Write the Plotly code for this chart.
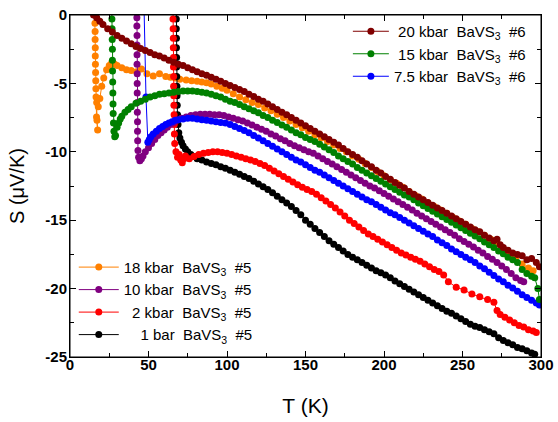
import plotly.graph_objects as go

# ---------------- data ----------------
# 20 kbar BaVS3 #6
T_20kbar = [13, 15, 17, 19, 21, 24, 27, 30, 33, 36, 39, 42, 45, 48, 51, 54, 57, 60, 63, 66, 69,
            72, 75, 78, 81, 84, 87, 90, 93, 96, 99, 102, 105, 108, 111, 114, 117, 120, 123, 126,
            129, 132, 135, 138, 141, 144, 147, 150, 153, 156, 159, 162, 165, 168, 171, 174, 177,
            180, 183, 186, 189, 192, 195, 198, 201, 204, 207, 210, 213, 216, 219, 222, 225, 228,
            231, 234, 237, 240, 243, 246, 249, 252, 255, 258, 261, 264, 267, 270, 272, 274, 276,
            279, 282, 285, 288, 291, 294, 297, 299]
S_20kbar = [1.0, 0.0, -0.2, -0.45, -0.7, -1.0, -1.25, -1.5, -1.7, -1.9, -2.1, -2.3, -2.45, -2.6,
            -2.75, -2.9, -3.0, -3.15, -3.3, -3.45, -3.6, -3.7, -3.85, -4.0, -4.15, -4.3, -4.4,
            -4.55, -4.7, -4.85, -5.0, -5.15, -5.3, -5.45, -5.6, -5.8, -5.95, -6.15, -6.3, -6.5,
            -6.7, -6.9, -7.1, -7.3, -7.5, -7.7, -7.9, -8.1, -8.3, -8.5, -8.7, -8.9, -9.1, -9.3,
            -9.5, -9.75, -10.0, -10.2, -10.4, -10.65, -10.9, -11.1, -11.35, -11.55, -11.8, -12.0,
            -12.25, -12.45, -12.65, -12.9, -13.1, -13.3, -13.5, -13.7, -13.9, -14.1, -14.3, -14.5,
            -14.7, -14.9, -15.1, -15.3, -15.5, -15.7, -15.85, -16.1, -16.3, -16.5, -16.4, -16.8,
            -17.0, -17.2, -17.4, -17.5, -17.6, -17.9, -17.8, -18.1, -18.4]

# 15 kbar BaVS3 #6
T_15kbar = [26.5, 26.7, 26.8, 26.9, 27.0, 27.0, 27.1, 27.2, 27.3, 27.4, 27.5, 27.7, 28.0, 28.5,
            29.0, 30, 31, 32, 33, 35, 37, 39, 42, 45, 48, 51, 54, 57, 60, 63, 66, 69, 72, 75, 78,
            81, 84, 87, 90, 93, 96, 99, 102, 105, 108, 111, 114, 117, 120, 123, 126, 129, 132,
            135, 138, 141, 144, 147, 150, 153, 156, 159, 162, 165, 168, 171, 174, 177, 180, 183,
            186, 189, 192, 195, 198, 201, 204, 207, 210, 213, 216, 219, 222, 225, 228, 231, 234,
            237, 240, 243, 246, 249, 252, 255, 258, 261, 264, 267, 270, 273, 276, 279, 282, 285,
            288, 291, 294, 296, 298, 299]
S_15kbar = [1.0, -0.3, -1.0, -1.8, -2.5, -3.3, -4.1, -4.9, -5.7, -6.5, -7.2, -7.9, -8.5, -8.9,
            -8.8, -8.2, -7.9, -7.6, -7.4, -7.1, -6.9, -6.7, -6.45, -6.3, -6.15, -6.0, -5.9, -5.8,
            -5.75, -5.7, -5.65, -5.6, -5.55, -5.55, -5.55, -5.6, -5.65, -5.7, -5.8, -5.9, -6.0,
            -6.15, -6.3, -6.4, -6.55, -6.7, -6.85, -7.0, -7.15, -7.35, -7.5, -7.7, -7.85, -8.05,
            -8.2, -8.4, -8.6, -8.75, -8.95, -9.1, -9.25, -9.45, -9.65, -9.85, -10.05, -10.3,
            -10.5, -10.7, -10.9, -11.15, -11.35, -11.55, -11.75, -11.95, -12.15, -12.35, -12.55,
            -12.75, -12.95, -13.15, -13.3, -13.5, -13.75, -13.95, -14.15, -14.35, -14.55, -14.75,
            -14.95, -15.15, -15.35, -15.55, -15.75, -15.95, -16.15, -16.35, -16.6, -16.8, -17.0,
            -17.25, -17.45, -17.7, -17.9, -18.1, -18.6, -18.9, -19.1, -19.2, -20.0, -20.8]

# 7.5 kbar BaVS3 #6
T_7p5kbar = [46.5, 48.4, 49.6, 50.5, 51.5, 53, 55, 57, 59, 61, 63, 65, 67, 69, 72, 75, 78, 81, 84,
             87, 90, 93, 96, 99, 102, 105, 108, 111, 114, 117, 120, 123, 126, 129, 132, 135, 138,
             141, 144, 147, 150, 153, 156, 159, 162, 165, 168, 171, 174, 177, 180, 183, 186, 189,
             192, 195, 198, 201, 204, 207, 210, 213, 216, 219, 222, 225, 228, 231, 234, 237, 240,
             243, 246, 249, 252, 255, 258, 261, 264, 267, 270, 273, 276, 279, 282, 285, 288, 291,
             294, 297, 299]
S_7p5kbar = [4.0, -6.0, -9.3, -9.1, -8.9, -8.7, -8.5, -8.3, -8.15, -8.0, -7.9, -7.8, -7.7, -7.65,
             -7.6, -7.55, -7.55, -7.6, -7.65, -7.7, -7.75, -7.8, -7.85, -7.9, -8.0, -8.15, -8.3,
             -8.45, -8.6, -8.8, -9.0, -9.2, -9.4, -9.6, -9.8, -10.0, -10.2, -10.4, -10.6, -10.75,
             -10.95, -11.15, -11.35, -11.5, -11.7, -11.9, -12.1, -12.3, -12.5, -12.7, -12.9, -13.1,
             -13.3, -13.5, -13.65, -13.85, -14.05, -14.25, -14.45, -14.6, -14.8, -15.0, -15.2,
             -15.4, -15.6, -15.8, -16.0, -16.2, -16.45, -16.65, -16.85, -17.1, -17.3, -17.5, -17.7,
             -17.9, -18.1, -18.35, -18.55, -18.8, -19.05, -19.3, -19.5, -19.75, -19.95, -20.2,
             -20.45, -20.65, -20.85, -21.05, -21.2]

# 18 kbar BaVS3 #5
T_18kbar = [15.6, 15.8, 15.9, 16.0, 16.0, 16.1, 16.1, 16.2, 16.3, 16.4, 16.5, 16.6, 16.9, 17.6,
            17.2, 17.0, 18.0, 19.0, 20.2, 21.5, 23.3, 25.0, 26.5, 28.5, 30, 33, 36, 39, 42.5, 45.5,
            49, 53, 57, 61, 64, 67, 70, 74, 77.5, 81, 84, 87, 90, 93.5, 97, 100, 104, 108, 112,
            116, 120, 124, 128, 132, 136, 140, 144, 148, 152, 156, 160, 164, 168, 172, 176, 180,
            184, 188, 192, 196, 200, 204, 208, 212, 216, 220, 224, 228, 232, 236, 240, 244, 248,
            252, 256, 260, 264, 268, 272, 276, 280, 284, 288, 292, 295]
S_18kbar = [1.0, 0.0, -0.6, -1.2, -1.8, -2.4, -3.0, -3.6, -4.2, -4.8, -5.4, -6.0, -7.45, -8.4,
            -7.7, -6.4, -6.7, -6.1, -5.2, -4.6, -4.0, -3.7, -3.5, -3.6, -3.7, -3.85, -4.0, -4.05,
            -4.15, -3.95, -4.3, -4.45, -4.3, -4.5, -4.55, -4.6, -4.7, -4.75, -4.8, -4.85, -4.9,
            -4.95, -5.05, -5.2, -5.35, -5.5, -5.75, -6.0, -6.2, -6.4, -6.55, -6.8, -7.0, -7.25,
            -7.5, -7.75, -8.0, -8.25, -8.5, -8.75, -9.0, -9.25, -9.5, -9.75, -10.0, -10.3, -10.55,
            -10.85, -11.15, -11.45, -11.75, -12.05, -12.3, -12.6, -12.9, -13.2, -13.45, -13.75,
            -14.0, -14.25, -14.5, -14.8, -15.05, -15.3, -15.6, -15.85, -16.1, -16.4, -16.7, -17.2,
            -17.5, -17.7, -18.2, -18.5, -18.7]

# 10 kbar BaVS3 #5
T_10kbar = [42.5, 42.6, 42.6, 42.7, 42.7, 42.7, 42.7, 42.8, 42.8, 42.8, 42.9, 42.9, 43.0, 43.0,
            43.1, 43.3, 43.7, 44.5, 45.5, 46.5, 48, 50, 52, 54, 56, 58, 60, 62, 64, 66, 68, 71, 74,
            77, 80, 83, 86, 89, 92, 95, 98, 101, 104, 107, 110, 113, 116, 119, 122, 125, 128, 131,
            134, 137, 140, 143, 146, 149, 152, 155, 158, 161, 164, 167, 170, 173, 176, 179, 182,
            185, 188, 191, 194, 197, 200, 203, 206, 209, 212, 215, 218, 221, 224, 227, 230, 233,
            236, 239, 242, 245, 248, 251, 254, 257, 260, 263, 266, 269, 272, 275, 278, 281, 284,
            287, 289]
S_10kbar = [2.0, -0.2, -0.8, -1.5, -2.2, -2.9, -3.6, -4.3, -5.0, -5.7, -6.4, -7.1, -7.8, -8.5,
            -9.2, -9.9, -10.4, -10.65, -10.5, -10.3, -10.0, -9.7, -9.4, -9.1, -8.8, -8.6, -8.4,
            -8.2, -8.0, -7.85, -7.7, -7.55, -7.45, -7.35, -7.3, -7.25, -7.25, -7.25, -7.3, -7.3,
            -7.35, -7.45, -7.55, -7.65, -7.75, -7.9, -8.05, -8.2, -8.35, -8.5, -8.7, -8.85, -9.05,
            -9.2, -9.4, -9.55, -9.7, -9.85, -10.0, -10.1, -10.3, -10.5, -10.7, -10.9, -11.1,
            -11.3, -11.5, -11.7, -11.9, -12.1, -12.3, -12.5, -12.65, -12.85, -13.05, -13.25,
            -13.45, -13.65, -13.85, -14.05, -14.25, -14.5, -14.7, -14.9, -15.1, -15.3, -15.5,
            -15.7, -15.9, -16.1, -16.35, -16.55, -16.75, -16.95, -17.2, -17.4, -17.65, -17.85,
            -18.1, -18.35, -18.6, -18.9, -19.2, -19.4, -19.5]

# 2 kbar BaVS3 #5
T_2kbar = [65.5, 65.6, 65.7, 65.8, 65.8, 65.9, 65.9, 66.0, 66.0, 66.1, 66.2, 66.3, 66.4, 66.5,
           66.7, 67.5, 68.5, 69.5, 70.5, 71.5, 72.5, 73.5, 76, 79, 82, 85, 88, 91, 94, 97, 100, 103,
           106, 109, 112, 115, 118, 121, 124, 127, 130, 133, 136, 139, 142, 145, 148, 151, 154,
           157, 160, 163, 166, 169, 172, 175, 178, 181, 184, 187, 190, 193, 196, 199, 202, 205,
           208, 211, 214, 217, 220, 223, 226, 229, 232, 235, 238, 241, 246, 251, 256, 261, 266,
           270, 272, 274, 277, 280, 283, 286, 289, 292, 295, 297]
S_2kbar = [2.0, -0.3, -1.0, -1.7, -2.4, -3.1, -3.8, -4.5, -5.2, -5.9, -6.6, -7.3, -8.0, -8.7,
           -9.4, -10.0, -10.4, -10.2, -10.6, -10.8, -10.5, -10.3, -10.5, -10.35, -10.2, -10.1,
           -10.05, -10.0, -10.0, -10.05, -10.1, -10.2, -10.3, -10.4, -10.5, -10.6, -10.7, -10.85,
           -11.0, -11.2, -11.4, -11.6, -11.8, -12.0, -12.2, -12.4, -12.6, -12.75, -12.9, -13.1,
           -13.35, -13.6, -13.85, -14.1, -14.4, -14.7, -15.0, -15.25, -15.5, -15.75, -16.0,
           -16.2, -16.4, -16.6, -16.8, -17.0, -17.2, -17.4, -17.55, -17.7, -17.85, -18.0, -18.2,
           -18.4, -18.6, -18.75, -19.0, -19.5, -19.9, -20.1, -20.4, -20.6, -20.8, -21.0, -21.6,
           -21.9, -22.1, -22.3, -22.5, -22.7, -22.8, -23.0, -23.1, -23.2]

# 1 bar BaVS3 #5
T_1bar = [67.6, 67.7, 67.7, 67.8, 67.8, 67.9, 67.9, 68.0, 68.1, 68.2, 68.3, 68.5, 68.8, 69.3, 70,
          71, 72, 73.5, 75, 77, 79, 81, 84, 87, 90, 93, 96, 99, 102, 105, 108, 111, 114, 117, 120,
          123, 126, 129, 132, 135, 138, 141, 144, 147, 150, 153, 156, 159, 162, 165, 168, 171,
          174, 177, 180, 183, 186, 189, 192, 195, 198, 201, 204, 207, 210, 213, 216, 219, 222,
          225, 228, 231, 234, 237, 240, 243, 246, 249, 252, 255, 258, 261, 264, 267, 270, 273,
          276, 279, 282, 285, 288, 291, 294, 296]
S_1bar = [2.0, -0.3, -1.0, -1.7, -2.4, -3.1, -3.8, -4.5, -5.2, -5.9, -6.6, -7.3, -8.0, -8.6, -9.0,
          -9.3, -9.55, -9.8, -10.0, -10.2, -10.35, -10.5, -10.6, -10.75, -10.85, -10.95, -11.1,
          -11.2, -11.35, -11.5, -11.65, -11.8, -11.95, -12.15, -12.35, -12.55, -12.75, -13.0,
          -13.25, -13.5, -13.75, -14.0, -14.3, -14.6, -15.0, -15.3, -15.6, -15.9, -16.2, -16.5,
          -16.75, -17.0, -17.25, -17.5, -17.7, -17.9, -18.1, -18.3, -18.5, -18.7, -18.85, -19.0,
          -19.2, -19.45, -19.65, -19.85, -20.05, -20.25, -20.45, -20.65, -20.85, -21.05, -21.25,
          -21.45, -21.65, -21.8, -22.0, -22.2, -22.4, -22.6, -22.75, -22.85, -23.0, -23.15, -23.3,
          -23.6, -23.8, -23.95, -24.1, -24.3, -24.4, -24.55, -24.7, -24.8]

# tick values / labels
x_ticks = [0, 50, 100, 150, 200, 250, 300]
y_ticks = [0, -5, -10, -15, -20, -25]

NB = "\u00a0"
series = [
    # (name, T, S, color, legend, rank)
    (f"18 kbar{NB}{NB}BaVS<sub>3</sub>{NB}{NB}#5", T_18kbar, S_18kbar, "#FF8000", "legend2", 1),
    (f"{NB}{NB}{NB}{NB}1 bar{NB}{NB}BaVS<sub>3</sub>{NB}{NB}#5", T_1bar, S_1bar, "#000000", "legend2", 4),
    (f"{NB}{NB}2 kbar{NB}{NB}BaVS<sub>3</sub>{NB}{NB}#5", T_2kbar, S_2kbar, "#FF0000", "legend2", 3),
    (f"10 kbar{NB}{NB}BaVS<sub>3</sub>{NB}{NB}#5", T_10kbar, S_10kbar, "#800080", "legend2", 2),
    (f"7.5 kbar{NB}{NB}BaVS<sub>3</sub>{NB}{NB}#6", T_7p5kbar, S_7p5kbar, "#0000FF", "legend", 3),
    (f"{NB}15 kbar{NB}{NB}BaVS<sub>3</sub>{NB}{NB}#6", T_15kbar, S_15kbar, "#008000", "legend", 2),
    (f"{NB}20 kbar{NB}{NB}BaVS<sub>3</sub>{NB}{NB}#6", T_20kbar, S_20kbar, "#800000", "legend", 1),
]

fig = go.Figure()
for name, T, S, color, leg, rank in series:
    fig.add_trace(go.Scatter(
        x=T, y=S, name=name, mode="lines+markers",
        line=dict(color=color, width=1),
        marker=dict(color=color, size=7),
        legend=leg, legendrank=rank,
    ))

font_family = "Liberation Sans, Arial, sans-serif"
axis_common = dict(
    showline=True, linecolor="black", linewidth=1, mirror="allticks",
    ticks="inside", ticklen=6, tickwidth=1, tickcolor="black",
    showgrid=False, zeroline=False, automargin=False, ticklabeloverflow="allow",
    tickfont=dict(family=font_family, size=15, color="black", weight="bold"),
)

fig.update_layout(
    width=558, height=422,
    margin=dict(l=70, r=17, t=15, b=65, autoexpand=False),
    paper_bgcolor="white", plot_bgcolor="white",
    font=dict(family=font_family, color="black"),
    xaxis=dict(range=[0, 300], tickvals=x_ticks, ticktext=[str(v) for v in x_ticks],
               minor=dict(ticks="inside", ticklen=4, dtick=25, tickcolor="black"),
               ticklabelstandoff=-6,
               title=dict(text="T (K)", font=dict(size=21, family=font_family), standoff=26),
               **axis_common),
    yaxis=dict(range=[-25, 0], tickvals=y_ticks, ticktext=[str(v) for v in y_ticks],
               minor=dict(ticks="inside", ticklen=4, dtick=2.5, tickcolor="black"),
               ticklabelstandoff=-1,
               title=dict(text="S (μV/K)", font=dict(size=20, family=font_family)),
               **axis_common),
    legend=dict(x=0.590, y=1.0, xanchor="left", yanchor="top",
                bgcolor="rgba(0,0,0,0)", borderwidth=0,
                font=dict(size=15, family=font_family, color="black"),
                tracegroupgap=0, itemwidth=36),
    legend2=dict(x=0.008, y=0.018, xanchor="left", yanchor="bottom",
                 bgcolor="rgba(0,0,0,0)", borderwidth=0,
                 font=dict(size=15, family=font_family, color="black"),
                 tracegroupgap=0, itemwidth=40),
    shapes=[dict(type="rect", xref="paper", yref="paper", x0=0, x1=1, y0=0, y1=1,
                 line=dict(color="black", width=1), fillcolor="rgba(0,0,0,0)", layer="above")],
    showlegend=True,
)

# remove the default 8 px page margin so the figure fills the window exactly
fig.write_html("out.html", post_script="document.body.style.margin='0';",
               config={"displayModeBar": False})
